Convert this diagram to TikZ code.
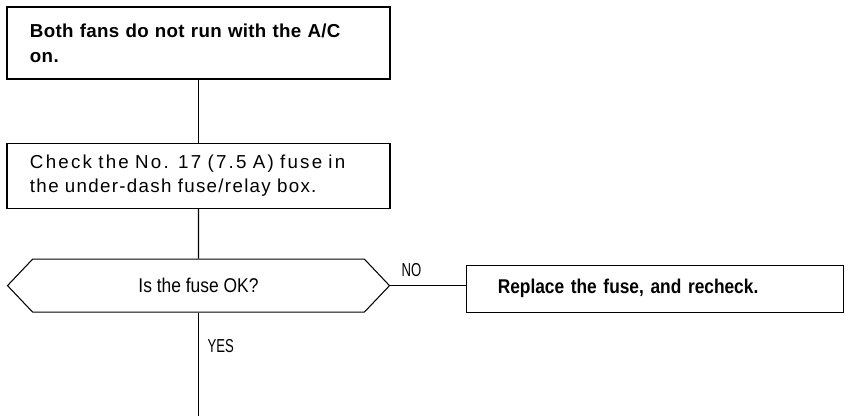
\documentclass[tikz,border=0pt]{standalone}
\usepackage{fontspec}
\setmainfont{Liberation Sans}
\newfontfamily\wideboldfont[LetterSpace=1.6]{Liberation Sans Bold}
\newfontfamily\widefont[LetterSpace=7]{Liberation Sans}
\newfontfamily\widerfont[LetterSpace=12]{Liberation Sans}
\newfontfamily\narrowfont[FakeStretch=0.875]{Liberation Sans}
\newfontfamily\labelfont[FakeStretch=0.7]{Liberation Sans}
\newfontfamily\narrowboldfont[FakeStretch=0.87]{Liberation Sans Bold}
\usetikzlibrary{positioning,shapes.geometric,shapes.symbols}

\begin{document}
\begin{tikzpicture}[
  x=0.03cm, y=-0.03cm,
  line width=0.9pt,
  box/.style={rectangle, draw, minimum width=11.49cm, text width=10.11cm, inner xsep=0.69cm, inner ysep=0pt, align=left},
  stepbox/.style={box, font=\widefont\fontsize{16}{20.5}\selectfont},
  topbox/.style={box, font=\wideboldfont\fontsize{16}{21.2}\selectfont},
  check/.style={signal, signal to=west and east, signal pointer angle=93, draw, minimum width=11.46cm, minimum height=1.59cm, inner sep=0pt, font=\narrowfont\fontsize{17}{20}\selectfont},
  fixbox/.style={rectangle, draw, minimum width=11.31cm, minimum height=1.41cm, text width=9.45cm, inner xsep=0.93cm, inner ysep=0pt, align=left, font=\narrowboldfont\fontsize{17}{20}\selectfont},
  lbl/.style={font=\labelfont\fontsize{16}{18}\selectfont}
]
\useasboundingbox (0,0) rectangle (849,415);

\node[topbox, minimum height=2.16cm] (symptom) at (198.5,43) {Both fans do not run with the A/C\\on.};

\node[stepbox, minimum height=1.95cm, below=1.89cm of symptom] (fuse) {{\widerfont Check the No. 17 (7.5 A) fuse in}\\the under-dash fuse/relay box.};
\draw (symptom) -- (fuse);

\node[check, below=1.5cm of fuse] (fuseok) {Is the fuse OK?};
\draw (fuse) -- (fuseok);

\node[fixbox, right=2.28cm of fuseok, yshift=-0.09cm] (replace) {Replace the fuse, and recheck.};
\draw (fuseok.east) -- (fuseok.east -| replace.west) node[lbl, pos=0.28, above=4pt] {NO};

\coordinate[below=3.15cm of fuseok.south] (next);
\draw (fuseok.south) -- (next) node[lbl, pos=0.32, right=4pt] {YES};

\end{tikzpicture}
\end{document}
